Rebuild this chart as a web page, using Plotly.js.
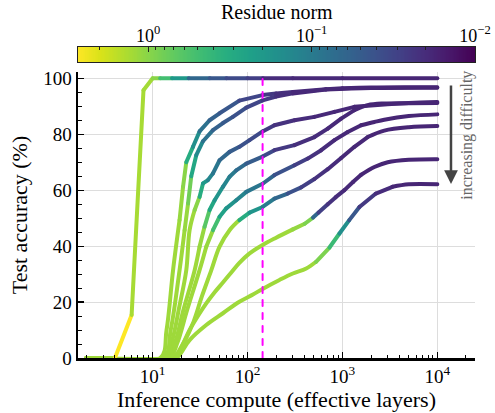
<!DOCTYPE html>
<html><head><meta charset="utf-8">
<script src="https://cdn.plot.ly/plotly-3.0.1.min.js"></script>
<style>
html,body{margin:0;padding:0;background:#fff}
#chart{width:495px;height:413px}
path.js-line{stroke-linecap:round !important;stroke-linejoin:round !important}
</style>
</head><body><div id="chart"></div>
<script>
// ---- data: effective layers (x), test accuracy % (y), residue norm (r) ----
const c1x = [2, 3, 4, 6, 8, 10, 12, 16, 24, 40, 60, 100, 145, 300, 1000, 3000, 10000];
const c1y = [0, 0, 0, 15.4, 95.7, 100, 100, 100, 100, 100, 100, 100, 100, 100, 100, 100, 100];
const c1r = [1.2, 1.2, 1.2, 2.7, 1.3, 1.25, 1.0, 0.5, 0.2, 0.063, 0.045, 0.035, 0.028, 0.02, 0.019, 0.018, 0.018];

const c2x = [2, 12, 14, 16.4, 19.2, 20.9, 22.6, 26.6, 31.2, 39.8, 50.7, 82, 144, 200, 300, 670, 1000, 2000, 5000, 10000];
const c2y = [0, 0, 10, 31.4, 49.3, 61.2, 70, 75.5, 81, 85, 87.5, 92, 94, 94.6, 95.1, 96.1, 96.4, 96.7, 96.8, 96.8];
const c2r = [1.2, 1.2, 1.2, 1.2, 1.2, 1.12, 1.0, 0.32, 0.16, 0.08, 0.056, 0.045, 0.032, 0.025, 0.021, 0.019, 0.0186, 0.018, 0.018, 0.018];

const c3x = [2, 13, 15.5, 19.2, 21.7, 23.6, 25.5, 28.8, 33.9, 43.2, 55, 70, 97, 144, 200, 300, 670, 2000, 10000];
const c3y = [0, 0, 10, 31.4, 45.7, 55.2, 65, 72.5, 77.5, 81.5, 84, 86.2, 89.5, 92.1, 93.5, 94.6, 96, 96.5, 96.6];
const c3r = [1.2, 1.2, 1.2, 1.2, 1.2, 1.12, 0.8, 0.28, 0.14, 0.08, 0.056, 0.048, 0.04, 0.032, 0.025, 0.021, 0.019, 0.018, 0.018];

const c4x = [2, 13.5, 16, 19, 22.6, 24.5, 27.7, 31.2, 33.9, 38.2, 43.2, 50.7, 64.6, 82, 105, 144, 192, 312, 507, 824, 1337, 2760, 5000, 10000];
const c4y = [0, 0, 6, 18, 31.4, 45.7, 52.9, 57.6, 62.4, 63.6, 66, 70.7, 73.7, 75.5, 77.9, 81, 83.2, 85, 86.2, 88, 89.8, 90.6, 91.2, 91.5];
const c4r = [1.2, 1.2, 1.2, 1.2, 1.2, 1.2, 1.2, 1.0, 0.32, 0.2, 0.126, 0.09, 0.063, 0.05, 0.04, 0.035, 0.026, 0.022, 0.02, 0.019, 0.0186, 0.018, 0.018, 0.018];

const c5x = [2, 14, 17, 21, 27.7, 31.2, 35.2, 39.8, 45, 55, 64.6, 76, 97, 144, 192, 312, 507, 700, 969, 1337, 1845, 2760, 5000, 10000];
const c5y = [0, 0, 5, 17, 31.4, 39.8, 46.9, 52.9, 56.4, 61.2, 64.8, 67.1, 69.5, 72, 74.3, 76.1, 79, 82, 85.6, 88.6, 90.4, 91, 91.1, 91.2];
const c5r = [1.2, 1.2, 1.2, 1.2, 1.2, 1.2, 1.12, 0.63, 0.28, 0.18, 0.126, 0.1, 0.07, 0.05, 0.035, 0.025, 0.021, 0.02, 0.019, 0.0186, 0.018, 0.018, 0.018, 0.018];

const c6x = [2, 15, 18, 23, 31.2, 36.7, 43.2, 50.7, 59.7, 76, 97, 144, 192, 312, 431, 597, 824, 1137, 1573, 2173, 2760, 5000, 10000];
const c6y = [0, 0, 5, 17, 31.4, 39.8, 45.7, 50.5, 53.5, 56.4, 59.4, 62.3, 65.4, 68.9, 71.3, 74.3, 77.9, 80.8, 83.2, 84.4, 85.2, 86.5, 87.1];
const c6r = [1.2, 1.2, 1.2, 1.2, 1.2, 1.2, 1.12, 0.5, 0.25, 0.18, 0.126, 0.09, 0.063, 0.04, 0.028, 0.022, 0.02, 0.019, 0.0186, 0.018, 0.018, 0.018, 0.018];

const c7x = [2, 17, 21, 27, 33, 41.5, 50.7, 64.6, 82, 105, 144, 192, 265, 367, 507, 700, 969, 1337, 1845, 2760, 5000, 10000];
const c7y = [0, 0, 5, 13, 22, 31.4, 39.8, 45.7, 49.3, 52, 54, 57, 58.8, 61, 64, 67.5, 71.5, 75.5, 79, 81.3, 82.5, 82.9];
const c7r = [1.2, 1.2, 1.2, 1.2, 1.2, 1.2, 1.2, 1.2, 1.2, 0.32, 0.18, 0.1, 0.063, 0.04, 0.028, 0.022, 0.02, 0.019, 0.0186, 0.018, 0.018, 0.018];

const c8x = [2, 16, 20, 24.5, 30, 36.7, 45, 55, 67, 82, 105, 144, 200, 300, 400, 490, 560, 700, 850, 1050, 1300, 1573, 2170, 3000, 5000, 10000];
const c8y = [0, 0, 4, 10, 15, 19.5, 23.5, 27, 30.5, 34, 37.4, 40.4, 43, 46, 48, 50.2, 52, 55, 57.5, 60, 63, 65.5, 68.3, 70, 70.9, 71.1];
const c8r = [1.2, 1.2, 1.2, 1.2, 1.2, 1.2, 1.2, 1.2, 1.2, 1.2, 1.2, 1.2, 1.2, 1.2, 1.1, 0.9, 0.063, 0.028, 0.022, 0.02, 0.019, 0.0186, 0.018, 0.018, 0.018, 0.018];

const c9x = [2, 17, 18.5, 24.5, 36.7, 55, 82, 114, 144, 217, 300, 415, 527, 730, 930, 1180, 1510, 2250, 3370, 5000, 10000];
const c9y = [0, 0, 0.5, 6.4, 11.8, 16, 20.1, 22.7, 24.7, 27.9, 30.2, 32, 34.4, 39.5, 44.5, 49.3, 54, 58.8, 61.2, 62.1, 62.1];
const c9r = [1.2, 1.2, 1.2, 1.2, 1.2, 1.2, 1.2, 1.2, 1.2, 1.2, 1.2, 1.2, 1.2, 0.9, 0.45, 0.16, 0.045, 0.025, 0.02, 0.018, 0.018];

const markerX = [144, 144];          // dashed reference line (effective layers)
const xTickVals = [10, 100, 1000, 10000];
const xTickText = ['10<sup>1</sup>', '10<sup>2</sup>', '10<sup>3</sup>', '10<sup>4</sup>'];
const yTickVals = [0, 20, 40, 60, 80, 100];
const cbTickVals = [0, -1, -2];
const cbTickText = ['10<sup>0</sup>', '10<sup>\u22121</sup>', '10<sup>\u22122</sup>'];
const CMIN = -2, CMAX = 0.43;        // log10 residue norm range of the colour bar

// ---- viridis ----
const VIR = [[0,'#440154'],[0.06274509803921569,'#48186a'],[0.12549019607843137,'#472d7b'],[0.18823529411764706,'#424086'],[0.25098039215686274,'#3b528b'],[0.3137254901960784,'#33638d'],[0.3764705882352941,'#2c728e'],[0.4392156862745098,'#26828e'],[0.5019607843137255,'#21918c'],[0.5647058823529412,'#1fa088'],[0.6274509803921569,'#28ae80'],[0.6901960784313725,'#3fbc73'],[0.7529411764705882,'#5ec962'],[0.8156862745098039,'#84d44b'],[0.8784313725490196,'#addc30'],[0.9411764705882353,'#d8e219'],[1,'#fde725']];
function h2r(h){return [parseInt(h.slice(1,3),16),parseInt(h.slice(3,5),16),parseInt(h.slice(5,7),16)];}
function vir(t){
  t = Math.max(0, Math.min(1, t));
  for (let i = 1; i < VIR.length; i++) {
    if (t <= VIR[i][0]) {
      const a = VIR[i-1], b = VIR[i], f = (t - a[0]) / (b[0] - a[0]);
      const ca = h2r(a[1]), cb = h2r(b[1]);
      return 'rgb(' + ca.map((v,k) => Math.round(v + (cb[k]-v)*f)).join(',') + ')';
    }
  }
  return VIR[VIR.length-1][1];
}
function colorOf(r){ return vir((Math.log10(r) - CMIN) / (CMAX - CMIN)); }

const curves = [[c9x,c9y,c9r,true],[c8x,c8y,c8r,true],[c7x,c7y,c7r,true],[c6x,c6y,c6r,true],[c5x,c5y,c5r,true],[c4x,c4y,c4r,true],[c3x,c3y,c3r,true],[c2x,c2y,c2r,true],[c1x,c1y,c1r,false]];

const traces = [];
// colour bar as heatmap on its own axes
const cbVals = [];
for (let i = 0; i <= 300; i++) cbVals.push(CMIN + (CMAX - CMIN) * i / 300);
traces.push({type:'heatmap', x:cbVals, y:[0.5], z:[cbVals], colorscale:VIR, zmin:CMIN, zmax:CMAX,
  showscale:false, xaxis:'x2', yaxis:'y2', hoverinfo:'skip'});

// curves: segments coloured by residue norm, one trace per run of equal colour
curves.forEach(([xs, ys, rs, smooth]) => {
  const lineOf = (c) => smooth ? {color:c, width:4, shape:'spline', smoothing:1.0} : {color:c, width:4};
  let runX = [xs[0]], runY = [ys[0]], runC = colorOf(rs[1]);
  for (let i = 0; i < xs.length - 1; i++) {
    const c = colorOf(rs[i+1]);
    if (c !== runC) {
      traces.push({type:'scatter', mode:'lines', x:runX, y:runY, line:lineOf(runC), hoverinfo:'skip'});
      runX = [xs[i]]; runY = [ys[i]]; runC = c;
    }
    runX.push(xs[i+1]); runY.push(ys[i+1]);
  }
  traces.push({type:'scatter', mode:'lines', x:runX, y:runY, line:lineOf(runC), hoverinfo:'skip'});
});

// dashed magenta reference line
traces.push({type:'scatter', mode:'lines', x:markerX, y:[0, 102.25], line:{color:'#ff00ff', width:2, dash:'6px,7px'}, hoverinfo:'skip'});

const minorX = [];
[1, 10, 100, 1000, 10000].forEach(d => { for (let k = 2; k <= 9; k++) minorX.push(k * d); });
const minorCb = [];
[1, 0.1, 0.01].forEach(d => { for (let k = 2; k <= 9; k++) { const v = Math.log10(k * d); if (v <= CMAX) minorCb.push(v); } });
const minorY = [5,10,15,25,30,35,45,50,55,65,70,75,85,90,95];

const FONT = '"Liberation Serif", "DejaVu Serif", serif';
const layout = {
  width:495, height:413,
  margin:{l:78, r:20, t:47, b:55},
  paper_bgcolor:'#ffffff', plot_bgcolor:'#ffffff',
  font:{family:FONT, color:'#000', size:19},
  showlegend:false, hovermode:false,
  xaxis:{type:'log', range:[0.213, 4.397], domain:[0,1], anchor:'y',
    tickmode:'array', tickvals:xTickVals, ticktext:xTickText,
    ticks:'inside', ticklen:6, tickwidth:1.2, tickcolor:'#000',
    showline:true, linewidth:2.5, linecolor:'#000',
    showgrid:true, gridcolor:'#dddddd', gridwidth:1, zeroline:false,
    minor:{tickmode:'array', tickvals:minorX, ticks:'inside', ticklen:3.5, tickwidth:1, tickcolor:'#000', showgrid:false},
    tickfont:{size:19},
    title:{text:'Inference compute (effective layers)', font:{size:22}, standoff:6}},
  yaxis:{range:[0, 102.25], domain:[0, 0.9196], anchor:'x',
    tickmode:'array', tickvals:yTickVals,
    ticks:'inside', ticklen:6, tickwidth:1.2, tickcolor:'#000',
    showline:true, linewidth:2.5, linecolor:'#000',
    showgrid:true, gridcolor:'#dddddd', gridwidth:1, zeroline:false,
    minor:{tickmode:'array', tickvals:minorY, ticks:'inside', ticklen:3.5, tickwidth:1, tickcolor:'#000', showgrid:false},
    tickfont:{size:19},
    title:{text:'Test accuracy (%)', font:{size:22}, standoff:10}},
  xaxis2:{domain:[0,1], anchor:'y2', range:[CMAX, CMIN], side:'top',
    tickmode:'array', tickvals:cbTickVals, ticktext:cbTickText,
    ticks:'inside', ticklen:5, tickwidth:1, tickcolor:'#222', ticklabelstandoff:-3,
    minor:{tickmode:'array', tickvals:minorCb, ticks:'inside', ticklen:3, tickwidth:1, tickcolor:'#222'},
    showline:true, mirror:true, linewidth:1, linecolor:'#222', showgrid:false, zeroline:false,
    tickfont:{size:18}},
  yaxis2:{domain:[0.9518, 1], anchor:'x2', range:[0, 1], showticklabels:false, ticks:'',
    showline:true, mirror:true, linewidth:1, linecolor:'#222', showgrid:false, zeroline:false},
  annotations:[
    {xref:'paper', yref:'paper', x:0.5, y:1.111, xanchor:'center', yanchor:'middle', showarrow:false,
     text:'Residue norm', font:{size:20, color:'#000'}},
    {xref:'paper', yref:'paper', x:0.9395, y:0.5595, ax:0, ay:-100, showarrow:true, text:'',
     arrowhead:2, arrowsize:1.1, arrowwidth:2.5, arrowcolor:'#444'},
    {xref:'paper', yref:'paper', x:0.979, y:0.717, xanchor:'center', yanchor:'middle', showarrow:false,
     text:'increasing difficulty', textangle:-90, font:{size:16, color:'#666'}}
  ]
};

Plotly.newPlot('chart', traces, layout, {staticPlot:true, displayModeBar:false});
</script></body></html>
